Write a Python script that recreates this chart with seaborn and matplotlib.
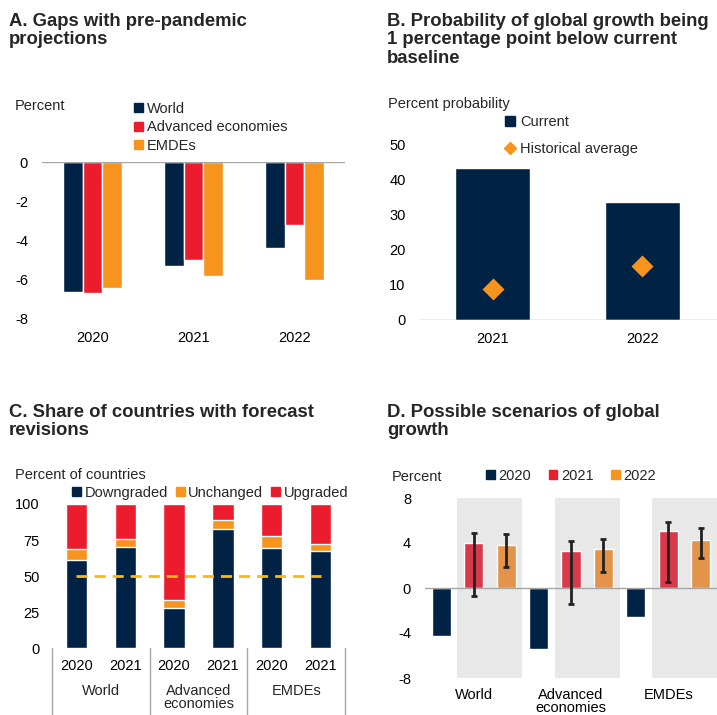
import numpy as np
import pandas as pd
import matplotlib
matplotlib.use("Agg")
import matplotlib.pyplot as plt
from matplotlib.patches import Patch
from matplotlib.lines import Line2D
import seaborn as sns

sns.set_theme(style="white")
plt.rcParams['font.family'] = ['Liberation Sans', 'DejaVu Sans']
plt.rcParams['axes.unicode_minus'] = False

NAVY = '#002345'
RED = '#EB1C2D'
ORANGE = '#F7941D'
GOLD = '#FDB714'
AXGREY = '#A6A6A6'

# ---- data ----
# A. gaps with pre-pandemic projections
years_a = ['2020', '2021', '2022']
world_gap = [-6.6, -5.3, -4.4]
adv_gap = [-6.7, -5.0, -3.2]
emde_gap = [-6.4, -5.8, -6.0]

# B. probability of growth 1 pp below baseline
years_b = ['2021', '2022']
prob_current = [43.4, 33.7]
prob_hist = [8.8, 15.4]

# C. share of countries with forecast revisions
groups_c = ['World', 'Advanced\neconomies', 'EMDEs']
years_c = ['2020', '2021']
downgraded = [61.1, 70.4, 27.5, 82.9, 69.4, 67.1]
unchanged = [7.4, 5.1, 5.6, 5.8, 8.1, 4.9]
upgraded = [31.5, 24.5, 66.9, 11.3, 22.5, 28.0]

# D. possible scenarios of global growth
groups_d = ['World', 'Advanced\neconomies', 'EMDEs']
years_d = ['2020', '2021', '2022']
growth_2020 = [-4.3, -5.4, -2.6]
growth_2021 = [4.0, 3.3, 5.1]
growth_2022 = [3.8, 3.5, 4.3]
range_2021_low = [-0.7, -1.4, 0.5]
range_2021_high = [4.9, 4.2, 5.9]
range_2022_low = [1.9, 1.4, 2.7]
range_2022_high = [4.8, 4.4, 5.3]


W, H = 717, 715
fig = plt.figure(figsize=(W / 100, H / 100), dpi=100)


def px(l, t, r, b):
    return [l / W, 1 - b / H, (r - l) / W, (b - t) / H]


def ftext(x, y, s, **kw):
    fig.text(x / W, 1 - y / H, s, **kw)


def clean(ax):
    for sp in ax.spines.values():
        sp.set_visible(False)
    ax.tick_params(length=0, labelsize=10.5, colors='black')
    ax.set_xlabel('')
    ax.set_ylabel('')


TS = 13.3
ftext(9, 13, 'A. Gaps with pre-pandemic\nprojections', fontsize=TS, fontweight='bold', va='top', linespacing=1.1)
ftext(387, 13, 'B. Probability of global growth being\n1 percentage point below current\nbaseline', fontsize=TS, fontweight='bold', va='top', linespacing=1.1)
ftext(9, 404, 'C. Share of countries with forecast\nrevisions', fontsize=TS, fontweight='bold', va='top', linespacing=1.1)
ftext(387, 404, 'D. Possible scenarios of global\ngrowth', fontsize=TS, fontweight='bold', va='top', linespacing=1.1)

# ---------- Panel A ----------
axA = fig.add_axes(px(42, 162, 345, 319))
dfa = pd.DataFrame({
    'year': years_a * 3,
    'value': world_gap + adv_gap + emde_gap,
    'group': ['World'] * 3 + ['Advanced economies'] * 3 + ['EMDEs'] * 3,
})
sns.barplot(data=dfa, x='year', y='value', hue='group', palette=[NAVY, RED, ORANGE],
            width=0.58, saturation=1, ax=axA, legend=False)
axA.set_ylim(-8, 0)
axA.set_yticks([-8, -6, -4, -2, 0])
axA.set_xlim(-0.5, 2.5)
axA.axhline(0, color=AXGREY, lw=1)
clean(axA)
axA.tick_params(axis='y', pad=10)
axA.tick_params(axis='x', pad=9)
ftext(15, 106, 'Percent', fontsize=10.5, va='center')
axA.legend(handles=[Patch(color=c, label=l) for c, l in zip([NAVY, RED, ORANGE], ['World', 'Advanced economies', 'EMDEs'])],
           loc='upper left', bbox_to_anchor=(134 / W, 1 - 102 / H), bbox_transform=fig.transFigure,
           frameon=False, fontsize=10.5, handlelength=0.6, handleheight=0.6, handletextpad=0.3,
           labelspacing=0.3, borderpad=0, borderaxespad=0)

# ---------- Panel B ----------
axB = fig.add_axes(px(418, 145, 717, 320))
sns.barplot(x=years_b, y=prob_current, color=NAVY, width=0.5, saturation=1, ax=axB)
sns.pointplot(x=years_b, y=prob_hist, color=ORANGE, linestyle='none', marker='D', markersize=9, ax=axB)
axB.set_ylim(0, 50)
axB.set_xlim(-0.5, 1.5)
axB.set_yticks([0, 10, 20, 30, 40, 50])
axB.axhline(0, color=AXGREY, lw=1)
clean(axB)
axB.tick_params(axis='y', pad=9)
axB.tick_params(axis='x', pad=9)
ftext(388, 104, 'Percent probability', fontsize=10.5, va='center')
axB.legend(handles=[Line2D([], [], marker='s', color=NAVY, lw=0, markersize=7, label='Current'),
                    Line2D([], [], marker='D', color=ORANGE, lw=0, markersize=6, label='Historical average')],
           loc='upper left', bbox_to_anchor=(504 / W, 1 - 115 / H), bbox_transform=fig.transFigure,
           frameon=False, fontsize=10.5, handlelength=0.8, handletextpad=0.3,
           labelspacing=0.9, borderpad=0, borderaxespad=0)

# ---------- Panel C ----------
axC = fig.add_axes(px(52, 504, 345, 648))
xlab_c = [f'{g}|{y}' for g in groups_c for y in years_c]
down = np.array(downgraded)
mid = down + np.array(unchanged)
top = mid + np.array(upgraded)
sns.barplot(x=xlab_c, y=top, color=RED, width=0.44, saturation=1, ax=axC)
sns.barplot(x=xlab_c, y=mid, color=ORANGE, width=0.44, saturation=1, ax=axC)
sns.barplot(x=xlab_c, y=down, color=NAVY, width=0.44, saturation=1, ax=axC)
axC.plot([0, len(xlab_c) - 1], [50, 50], color=GOLD, lw=2, dashes=(4, 2.5))
axC.set_ylim(0, 100)
axC.set_xlim(-0.5, len(xlab_c) - 0.5)
axC.set_yticks([0, 25, 50, 75, 100])
axC.set_xticks(range(len(xlab_c)))
axC.set_xticklabels(years_c * len(groups_c))
clean(axC)
axC.tick_params(axis='y', pad=9)
axC.tick_params(axis='x', pad=8)
trC = axC.get_xaxis_transform()
for xb in [-0.5, 1.5, 3.5, 5.5]:
    axC.plot([xb, xb], [0, -0.5], color=AXGREY, lw=1, transform=trC, clip_on=False)
for i, g in enumerate(groups_c):
    axC.text(2 * i + 0.5, -0.25, g, transform=trC, ha='center', va='top', fontsize=10.5, linespacing=0.95)
ftext(15, 475, 'Percent of countries', fontsize=10.5, va='center')
axC.legend(handles=[Patch(color=c, label=l) for c, l in zip([NAVY, ORANGE, RED], ['Downgraded', 'Unchanged', 'Upgraded'])],
           loc='upper left', bbox_to_anchor=(72 / W, 1 - 486 / H), bbox_transform=fig.transFigure,
           ncol=3, frameon=False, fontsize=10.5, handlelength=0.6, handleheight=0.6, handletextpad=0.25,
           columnspacing=0.55, borderpad=0, borderaxespad=0)

# ---------- Panel D ----------
axD = fig.add_axes(px(425, 498, 717, 678))
dfd = pd.DataFrame({
    'group': groups_d * 3,
    'value': growth_2020 + growth_2021 + growth_2022,
    'year': ['2020'] * 3 + ['2021'] * 3 + ['2022'] * 3,
})
for g in range(len(groups_d)):
    axD.axvspan(g - 1 / 6, g + 0.5, color='#E8E8E8', lw=0, zorder=0)
sns.barplot(data=dfd, x='group', y='value', hue='year', palette=[NAVY, '#D93A4B', '#E3944A'],
            width=1.0, gap=0.41, saturation=1, ax=axD, legend=False, zorder=2)
axD.axhline(0, color=AXGREY, lw=1, zorder=3)
for cont, lo, hi in [(axD.containers[1], range_2021_low, range_2021_high),
                     (axD.containers[2], range_2022_low, range_2022_high)]:
    xs = [p.get_x() + p.get_width() / 2 for p in cont.patches]
    lo, hi = np.array(lo), np.array(hi)
    axD.errorbar(xs, (lo + hi) / 2, yerr=(hi - lo) / 2, fmt='none', ecolor='#222222',
                 elinewidth=2, capsize=2.5, capthick=2, zorder=4)
axD.set_ylim(-8, 8)
axD.set_xlim(-0.5, 2.5)
axD.set_yticks([-8, -4, 0, 4, 8])
clean(axD)
axD.tick_params(axis='y', pad=10)
axD.tick_params(axis='x', pad=7)
for lab in axD.get_xticklabels():
    lab.set_linespacing(0.95)
ftext(392, 477, 'Percent', fontsize=10.5, va='center')
axD.legend(handles=[Patch(color=c, label=l) for c, l in zip([NAVY, RED, ORANGE], years_d)],
           loc='upper left', bbox_to_anchor=(486 / W, 1 - 469 / H), bbox_transform=fig.transFigure,
           ncol=3, frameon=False, fontsize=10.5, handlelength=0.6, handleheight=0.6, handletextpad=0.25,
           columnspacing=1.2, borderpad=0, borderaxespad=0)

fig.savefig('out.png', dpi=100, facecolor='white')
